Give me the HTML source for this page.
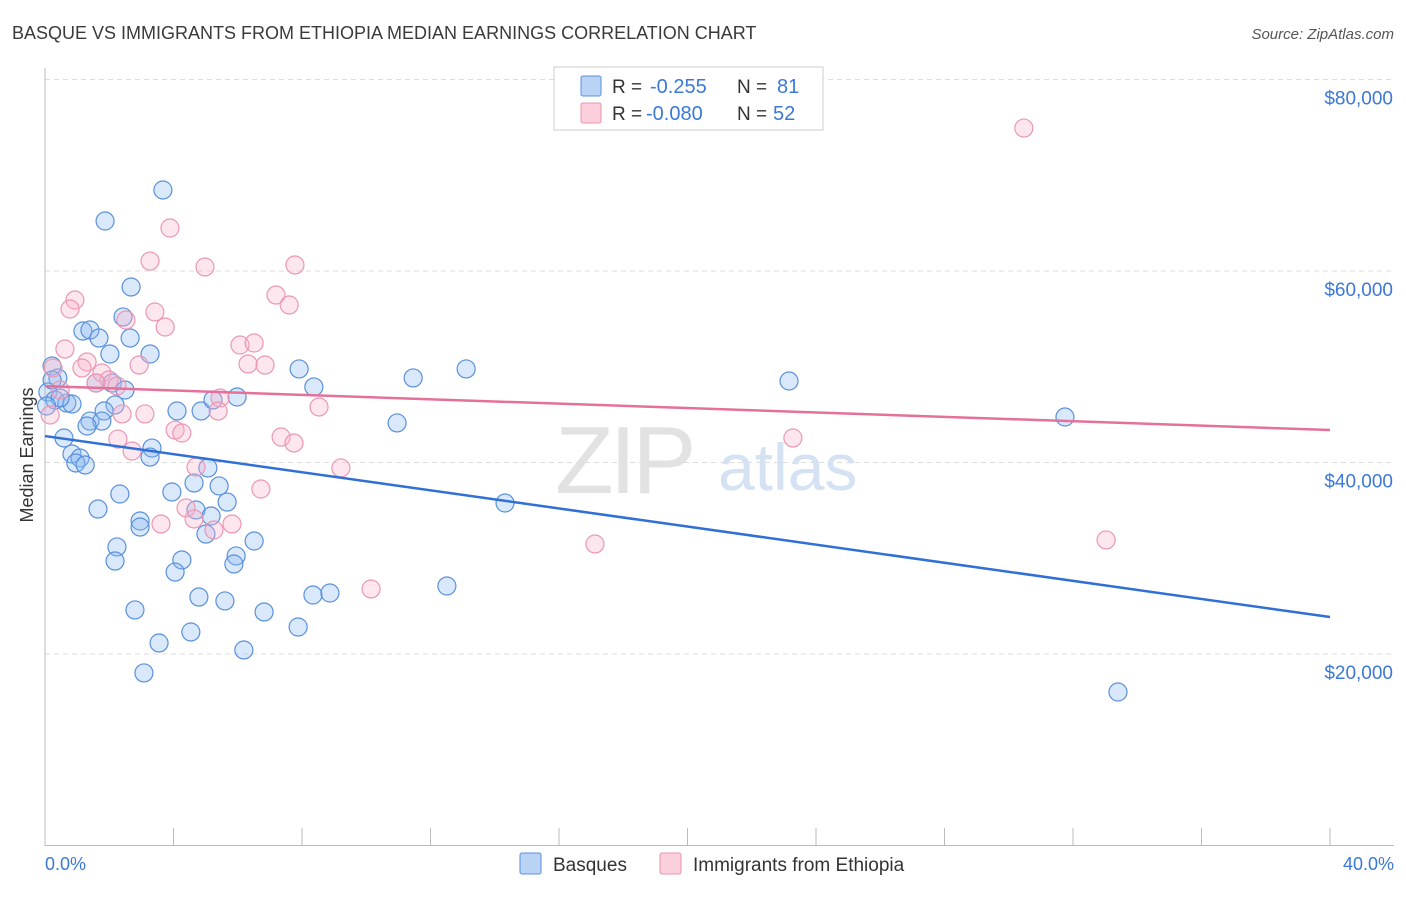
<!DOCTYPE html>
<html><head><meta charset="utf-8"><style>
body{margin:0;background:#fff;font-family:"Liberation Sans",sans-serif;}
svg text{font-family:"Liberation Sans",sans-serif;}
</style></head><body>
<svg width="1406" height="892" xmlns="http://www.w3.org/2000/svg">
<text x="12" y="39" font-size="18" fill="#3a3a3a">BASQUE VS IMMIGRANTS FROM ETHIOPIA MEDIAN EARNINGS CORRELATION CHART</text>
<text x="1394" y="39" font-size="15" fill="#555" font-style="italic" text-anchor="end">Source: ZipAtlas.com</text>
<g id="grid"></g>
<g>
<text x="555" y="493" font-size="96" font-family="Liberation Serif" fill="#e2e2e2" letter-spacing="-4">ZIP</text>
<text x="718" y="490" font-size="66" fill="#d5e2f3">atlas</text>
</g>
<line x1="45" y1="68" x2="45" y2="846" stroke="#bbb"/>
<line x1="45" y1="845.5" x2="1394" y2="845.5" stroke="#bbb"/>
<text x="33" y="455" font-size="18" fill="#333" transform="rotate(-90 33 455)" text-anchor="middle">Median Earnings</text>
<text x="45" y="870" font-size="18" fill="#3b78d8">0.0%</text>
<text x="1394" y="870" font-size="18" fill="#3b78d8" text-anchor="end">40.0%</text>
<g id="points"></g>
<g id="lines"></g>
<g>
<rect x="554" y="67" width="269" height="63" fill="#fff" stroke="#ccc"/>
<rect x="581" y="76" width="20" height="20" fill="#b9d3f5" stroke="#5b8fdc" rx="2"/>
<rect x="581" y="103" width="20" height="20" fill="#fbd0dc" stroke="#e993b0" rx="2"/>
<text x="612" y="93" font-size="19" fill="#333">R =</text>
<text x="650" y="93" font-size="20" fill="#3b78d8">-0.255</text>
<text x="737" y="93" font-size="19" fill="#333">N =</text>
<text x="777" y="93" font-size="20" fill="#3b78d8">81</text>
<text x="612" y="120" font-size="19" fill="#333">R =</text>
<text x="646" y="120" font-size="20" fill="#3b78d8">-0.080</text>
<text x="737" y="120" font-size="19" fill="#333">N =</text>
<text x="773" y="120" font-size="20" fill="#3b78d8">52</text>
</g>
<g>
<rect x="520" y="853" width="21" height="21" fill="#b9d3f5" stroke="#5b8fdc" rx="2"/>
<text x="553" y="871" font-size="19" fill="#333">Basques</text>
<rect x="660" y="853" width="21" height="21" fill="#fbd0dc" stroke="#e993b0" rx="2"/>
<text x="693" y="871" font-size="19" fill="#333">Immigrants from Ethiopia</text>
</g>
</svg>
<script>
const yTicks=[20000,40000,60000,80000];
const yTickLabels=["$20,000","$40,000","$60,000","$80,000"];
const xTicks=[0,4,8,12,16,20,24,28,32,36,40];
const basqueX=[3.67,1.87,2.68,2.43,1.18,1.40,1.68,2.65,2.02,3.27,0.22,0.40,1.59,2.09,2.49,0.09,0.31,0.68,0.84,0.47,2.18,1.84,4.11,4.86,5.23,5.98,7.91,8.37,11.46,13.11,23.16,10.96,1.40,1.77,1.31,0.59,3.33,0.84,1.09,0.96,1.25,3.27,5.07,4.64,2.33,3.95,5.42,1.65,5.67,4.70,5.17,2.96,2.96,5.01,2.24,4.26,5.95,6.51,5.88,2.18,4.05,4.79,5.60,6.82,8.34,8.87,12.51,2.80,7.88,4.54,3.55,6.19,3.08,14.32,31.75,33.40,0.05,0.22];
const basqueY=[68460,65220,58330,55200,53730,53840,53000,53000,51330,51330,50080,48830,48300,48300,47570,47360,46530,46210,46110,46740,46010,45380,45380,45380,46530,46840,49770,47890,48830,49770,48510,44130,44330,44330,43810,42560,41510,40890,40470,39950,39740,40570,39430,37860,36710,36920,37550,35140,35870,35040,34410,33890,33260,32530,31180,29820,30240,31800,29400,29710,28560,25950,25540,24390,26160,26370,27100,24600,22820,22300,21150,20420,18020,35770,44750,16030,45900,48620];
const ethX=[30.47,3.89,3.27,4.98,7.78,7.19,7.60,0.93,0.78,3.42,2.52,3.74,6.07,6.51,0.62,1.31,1.15,2.93,6.32,6.85,0.25,1.77,1.99,1.59,2.24,0.47,5.45,5.39,2.40,3.11,8.53,4.05,4.26,2.27,2.71,7.35,7.75,4.70,9.21,6.72,4.39,4.64,3.61,5.82,5.26,33.03,17.12,23.28,10.15,0.16];
const ethY=[74930,64490,61040,60420,60630,57490,56450,56970,56030,55720,54880,54150,52270,52480,51850,50500,49870,50180,50290,50180,49870,49350,48620,48300,47990,47570,46740,45380,45070,45070,45800,43390,43080,42450,41200,42660,42040,39530,39430,37230,35250,34100,33580,33580,32950,31910,31490,42560,26790,44960];
const basqueTrend=[42760,23860];
const ethTrend=[47980,43390];
const NS="http://www.w3.org/2000/svg";
const X=p=>45+p*32.125;
const Y=v=>654-(v-20000)*191.5/20000;
function mk(tag,attrs,parent){const e=document.createElementNS(NS,tag);for(const k in attrs)e.setAttribute(k,attrs[k]);parent.appendChild(e);return e;}
const grid=document.getElementById('grid');
yTicks.forEach((t,i)=>{
 const l=mk('line',{x1:45,x2:1394,y1:Y(t),y2:Y(t),stroke:'#ddd','stroke-dasharray':'5,4'},grid);
 
 
 const tx=mk('text',{x:1393,y:Y(t)+25,'font-size':19,fill:'#3b78d8','text-anchor':'end'},grid);
 tx.textContent=yTickLabels[i];
 
 
});
xTicks.forEach(t=>{
 const l=mk('line',{x1:X(t),x2:X(t),y1:828,y2:846,stroke:'#bbb'},grid);
 
 
});
const pts=document.getElementById('points');
basqueX.forEach((x,i)=>{
 const c=mk('circle',{cx:X(x),cy:Y(basqueY[i]),r:9,fill:'rgba(140,185,240,0.33)',stroke:'#5a90dc','stroke-width':1.2},pts);
 
 
});
ethX.forEach((x,i)=>{
 const c=mk('circle',{cx:X(x),cy:Y(ethY[i]),r:9,fill:'rgba(248,180,202,0.33)',stroke:'#eb97b4','stroke-width':1.2},pts);
 
 
});
const lines=document.getElementById('lines');
const bl=mk('line',{x1:X(0),y1:Y(basqueTrend[0]),x2:X(40),y2:Y(basqueTrend[1]),stroke:'#2f6fd6','stroke-width':2.5},lines);


const pl=mk('line',{x1:X(0),y1:Y(ethTrend[0]),x2:X(40),y2:Y(ethTrend[1]),stroke:'#e5709a','stroke-width':2.5},lines);


</script>
</body></html>
